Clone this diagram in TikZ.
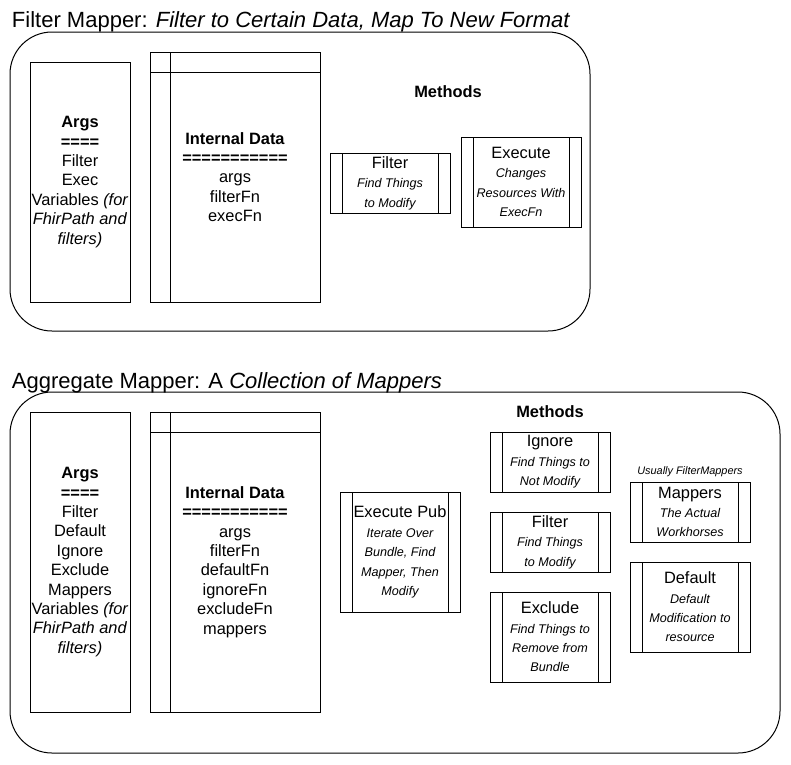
\documentclass[tikz,border=0pt]{standalone}
\usepackage{fontspec}
\setmainfont{Liberation Sans}
\newcommand{\mapbody}{\fontsize{16.4}{19.4}\selectfont}
\newcommand{\mapnote}{\fontsize{12.6}{19.4}\selectfont\itshape}
\newcommand{\mapsmall}{\fontsize{10.9}{13}\selectfont\itshape}
\newcommand{\maptitle}{\fontsize{22}{26}\selectfont}
\begin{document}
\begin{tikzpicture}[x=1pt,y=-1pt,line width=1pt,
	every node/.style={inner sep=0pt,outer sep=0pt,align=center,font=\mapbody},
	group/.style={draw,rounded corners=42pt},
	plainbox/.style={draw},
	storebox/.style={draw,path picture={
		\draw ([xshift=20pt]path picture bounding box.north west) -- ([xshift=20pt]path picture bounding box.south west);
		\draw ([yshift=-20pt]path picture bounding box.north west) -- ([yshift=-20pt]path picture bounding box.north east);}},
	methodbox/.style={draw,minimum width=120pt,path picture={
		\draw ([xshift=12pt]path picture bounding box.north west) -- ([xshift=12pt]path picture bounding box.south west);
		\draw ([xshift=-12pt]path picture bounding box.north east) -- ([xshift=-12pt]path picture bounding box.south east);}}]
		\useasboundingbox (0,0) rectangle (791,764);
		\node[group,minimum width=580pt,minimum height=299pt] (filterGroup) at (300,181.5) {};
		\node[anchor=base west,font=\maptitle] (filterTitle) at (12,27.5) {Filter Mapper: \textit{Filter to Certain Data, Map To New Format}};
		\node[plainbox,minimum width=100pt,minimum height=240pt] (filterArgs) at (80,182) {\textbf{Args}\\\textbf{====}\\Filter\\Exec\\Variables \textit{(for}\\\textit{FhirPath and}\\\textit{filters)}};
		\node[storebox,minimum width=170pt,minimum height=250pt] (filterData) at (235,177) {\textbf{Internal Data}\\\textbf{===========}\\args\\filterFn\\execFn};
		\node[font=\mapbody\bfseries] (filterMethods) at (448,92) {Methods};
		\node[methodbox,minimum height=60pt] (filterFilter) at (390,183) {Filter\\{\mapnote Find Things}\\{\mapnote to Modify}};
		\node[methodbox,minimum height=90pt] (filterExec) at (521,182) {Execute\\{\mapnote Changes}\\{\mapnote Resources With}\\{\mapnote ExecFn}};
		\node[group,minimum width=770pt,minimum height=361pt] (aggGroup) at (395,572.5) {};
		\node[anchor=base west,font=\maptitle] (aggTitle) at (12,388) {Aggregate Mapper: A \textit{Collection of Mappers}};
		\node[plainbox,minimum width=100pt,minimum height=300pt] (aggArgs) at (80,562) {\textbf{Args}\\\textbf{====}\\Filter\\Default\\Ignore\\Exclude\\Mappers\\Variables \textit{(for}\\\textit{FhirPath and}\\\textit{filters)}};
		\node[storebox,minimum width=170pt,minimum height=300pt] (aggData) at (235,562) {\textbf{Internal Data}\\\textbf{===========}\\args\\filterFn\\defaultFn\\ignoreFn\\excludeFn\\mappers};
		\node[methodbox,minimum height=120pt] (aggExec) at (400,552) {Execute Pub\\{\mapnote Iterate Over}\\{\mapnote Bundle, Find}\\{\mapnote Mapper, Then}\\{\mapnote Modify}};
		\node[font=\mapbody\bfseries] (aggMethods) at (550,412) {Methods};
		\node[methodbox,minimum height=60pt] (aggIgnore) at (550,462) {Ignore\\{\mapnote Find Things to}\\{\mapnote Not Modify}};
		\node[methodbox,minimum height=60pt] (aggFilter) at (550,542) {Filter\\{\mapnote Find Things}\\{\mapnote to Modify}};
		\node[methodbox,minimum height=90pt] (aggExclude) at (550,637) {Exclude\\{\mapnote Find Things to}\\{\mapnote Remove from}\\{\mapnote Bundle}};
		\node[font=\mapsmall] (aggUsually) at (690,472) {Usually FilterMappers};
		\node[methodbox,minimum height=60pt] (aggMappers) at (690,512) {Mappers\\{\mapnote The Actual}\\{\mapnote Workhorses}};
		\node[methodbox,minimum height=90pt] (aggDefault) at (690,607) {Default\\{\mapnote Default}\\{\mapnote Modification to}\\{\mapnote resource}};
\end{tikzpicture}
\end{document}
